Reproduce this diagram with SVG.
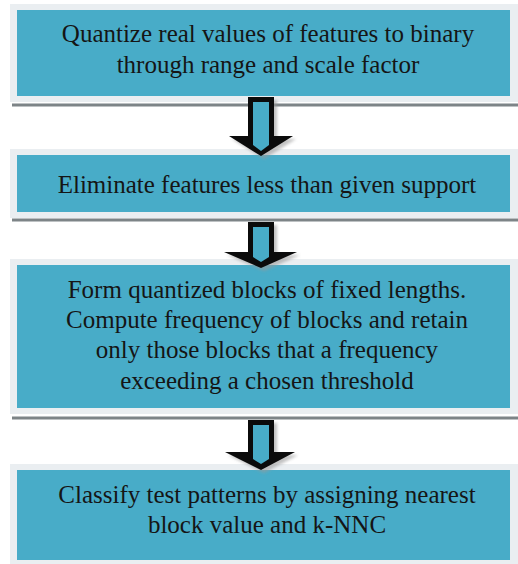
<svg xmlns="http://www.w3.org/2000/svg" width="518" height="564" viewBox="0 0 518 564">
  <style>
    .frame { fill: #eaeef1; }
    .box { fill: #48acc8; }
    .sep { stroke: #7d8487; stroke-width: 3; }
    .label { font-size: 25px; fill: #151515; text-anchor: middle; }
    .arrow-out { fill: #0b0b0b; }
    .arrow-in { fill: #48acc8; }
    .arrow-shadow { fill: #9a9a9a; opacity: 0.6; }
  </style>
  <defs>
    <filter id="soft" x="-20%" y="-20%" width="140%" height="140%">
      <feGaussianBlur stdDeviation="1.5"/>
    </filter>
  </defs>

  <rect width="518" height="564" fill="#ffffff"/>

  <!-- step boxes -->
  <g id="step1">
    <rect class="frame" x="10" y="4" width="508" height="98"/>
    <rect class="box" x="17" y="10" width="493" height="86"/>
    <text class="label" font-family="Liberation Serif" x="268" y="42">Quantize real values of features to binary</text>
    <text class="label" font-family="Times New Roman" x="268" y="73">through range and scale factor</text>
  </g>

  <g id="step2">
    <rect class="frame" x="10" y="149" width="508" height="69"/>
    <rect class="box" x="17" y="155" width="493" height="57"/>
    <text class="label" font-family="Liberation Serif" x="267" y="193">Eliminate features less than given support</text>
  </g>

  <g id="step3">
    <rect class="frame" x="10" y="259" width="508" height="155"/>
    <rect class="box" x="17" y="265" width="493" height="143"/>
    <text class="label" font-family="Times New Roman" x="267" y="298">Form quantized blocks of fixed lengths.</text>
    <text class="label" font-family="Liberation Serif" x="267" y="328">Compute frequency of blocks and retain</text>
    <text class="label" font-family="Times New Roman" x="267" y="358">only those blocks that a frequency</text>
    <text class="label" font-family="Liberation Serif" x="267" y="389">exceeding a chosen threshold</text>
  </g>

  <g id="step4">
    <rect class="frame" x="10" y="464" width="508" height="100"/>
    <rect class="box" x="17" y="470" width="493" height="90"/>
    <text class="label" font-family="Times New Roman" x="267" y="503">Classify test patterns by assigning nearest</text>
    <text class="label" font-family="Liberation Serif" x="267" y="533">block value and k-NNC</text>
  </g>

  <!-- connectors: separator rules and block arrows -->
  <g id="connectors">
    <line class="sep" x1="12" y1="105" x2="518" y2="105"/>
    <line class="sep" x1="12" y1="220" x2="518" y2="220"/>
    <line class="sep" x1="12" y1="418" x2="518" y2="418"/>

    <!-- arrow 1 -->
    <polygon class="arrow-shadow" filter="url(#soft)" points="251,100 277,100 277,139 296,139 264,159 232,139 251,139"/>
    <polygon class="arrow-out" points="248,97 274,97 274,136 293,136 261,156 229,136 248,136"/>
    <polygon class="arrow-in" points="253,102 269,102 269,145 261,151 253,145"/>

    <!-- arrow 2 -->
    <polygon class="arrow-shadow" filter="url(#soft)" points="251,225 277,225 277,255 300,255 264,271 227,255 251,255"/>
    <polygon class="arrow-out" points="248,222 274,222 274,252 297,252 261,268 224,252 248,252"/>
    <polygon class="arrow-in" points="253,227 269,227 269,257 261,262 253,257"/>

    <!-- arrow 3 -->
    <polygon class="arrow-shadow" filter="url(#soft)" points="251,423 277,423 277,455 298,455 264,473 228,455 251,455"/>
    <polygon class="arrow-out" points="248,420 274,420 274,452 295,452 261,470 225,452 248,452"/>
    <polygon class="arrow-in" points="253,425 269,425 269,459 261,464 253,459"/>
  </g>
</svg>
